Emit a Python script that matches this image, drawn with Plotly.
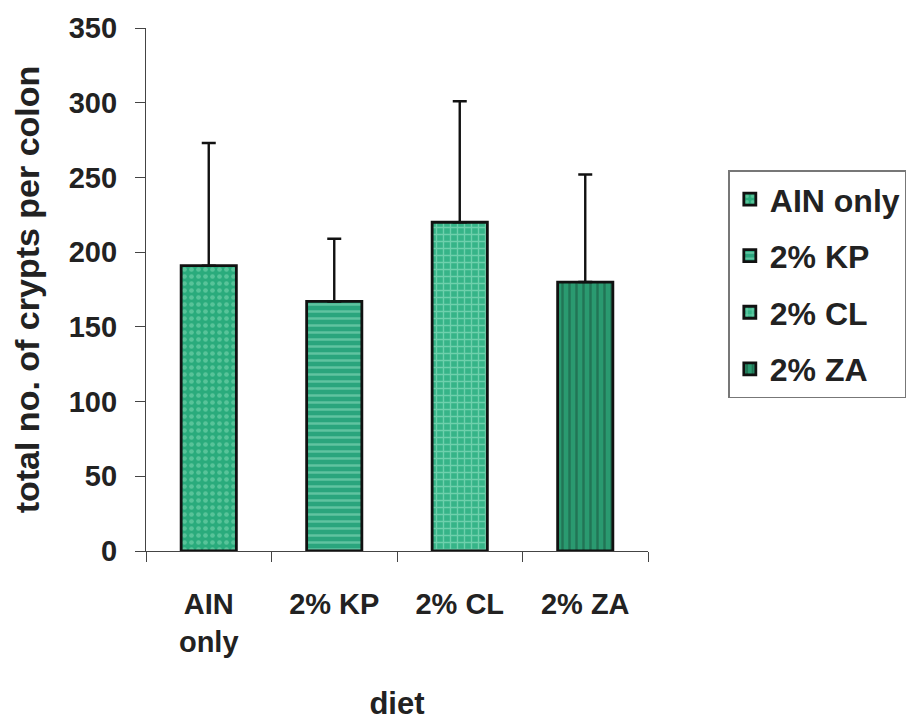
import plotly.graph_objects as go

categories = ["AIN only", "2% KP", "2% CL", "2% ZA"]
tick_labels = ["AIN<br>only", "2% KP", "2% CL", "2% ZA"]
means = [191, 167, 220, 180]
errors_up = [82, 42, 81, 72]
y_ticks = [0, 50, 100, 150, 200, 250, 300, 350]

bg_colors = ["#2aab7c", "#2aa57d", "#36b488", "#2a9a70"]
fg_colors = ["#86dcb6", "#96e2c4", "#a6eccf", "#17503a"]
shapes = [".", "-", "+", "|"]

FONT = "Liberation Sans, Arial, sans-serif"

fig = go.Figure()
for i, cat in enumerate(categories):
    fig.add_trace(go.Bar(
        x=[cat], y=[means[i]], name=cat, legendgroup=cat,
        width=0.44,
        marker=dict(color=bg_colors[i],
                    line=dict(color="#111111", width=2.8),
                    pattern=dict(shape=shapes[i], fgcolor=fg_colors[i],
                                 bgcolor=bg_colors[i], size=7, solidity=0.35,
                                 fillmode="overlay")),
        error_y=dict(type="data", symmetric=False, array=[errors_up[i]],
                     arrayminus=[0], color="#111111", thickness=2.4, width=7),
    ))

fig.update_layout(
    width=910, height=713,
    margin=dict(l=138, r=270, t=20, b=170),
    paper_bgcolor="white", plot_bgcolor="white",
    barmode="overlay",
    font=dict(family=FONT, size=29, color="#222222"),
    showlegend=True,
    legend=dict(x=1.16, y=0.728, xanchor="left", yanchor="top",
                bordercolor="#777777", borderwidth=1.5,
                font=dict(family=FONT, size=32, color="#222222", weight="bold"),
                traceorder="grouped", tracegroupgap=12,
                itemwidth=30),
)

fig.update_xaxes(
    type="category", categoryorder="array", categoryarray=categories,
    tickmode="array", tickvals=categories, ticktext=tick_labels,
    tickson="boundaries", ticks="outside", ticklen=10, tickwidth=1.2,
    tickcolor="#444444", automargin=False,
    showline=True, linecolor="#444444", linewidth=1.2,
    tickfont=dict(family=FONT, size=29, color="#222222", weight="bold"),
    ticklabelstandoff=27,
    title=dict(text="diet", font=dict(family=FONT, size=31, color="#222222", weight="bold"),
               standoff=41),
    showgrid=False, zeroline=False,
)

fig.update_yaxes(
    range=[0, 350], tickmode="array", tickvals=y_ticks,
    ticks="outside", ticklen=10, tickwidth=1.2, tickcolor="#444444",
    automargin=False,
    showline=True, linecolor="#444444", linewidth=1.2,
    tickfont=dict(family=FONT, size=29, color="#222222", weight="bold"),
    ticklabelstandoff=12,
    title=dict(text="total no. of crypts per colon",
               font=dict(family=FONT, size=34, color="#222222", weight="bold"),
               standoff=18),
    showgrid=False, zeroline=False,
)

fig.write_html("out.html")
